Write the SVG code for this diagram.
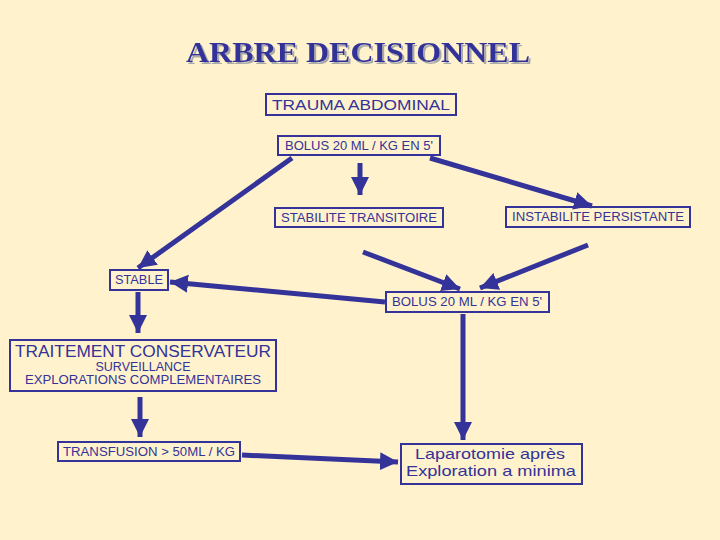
<svg xmlns="http://www.w3.org/2000/svg" width="720" height="540" viewBox="0 0 720 540">
<defs>
<marker id="ah" markerUnits="userSpaceOnUse" markerWidth="20" markerHeight="20" viewBox="0 0 20 20" refX="18" refY="10" orient="auto">
<path d="M0,1 L18,10 L0,19 Z" fill="#333399"/>
</marker>
<filter id="sh" x="-10%" y="-30%" width="120%" height="160%">
<feDropShadow dx="2" dy="2" stdDeviation="0" flood-color="#AAAAAA" flood-opacity="1"/>
</filter>
</defs>
<style>
.box{fill:none;stroke:#333399;stroke-width:2}
.t{font-family:"Liberation Sans",Arial,sans-serif;fill:#333399;text-anchor:middle}
.n{font-size:12px}
.c{stroke:#333399;stroke-width:5;fill:none;marker-end:url(#ah)}
</style>
<rect width="720" height="540" fill="#FFF2CC"/>
<g id="title">
<text x="358" y="62" font-family="'Liberation Serif',serif" font-weight="bold" font-size="30" fill="#333399" text-anchor="middle" textLength="344" lengthAdjust="spacingAndGlyphs" filter="url(#sh)">ARBRE DECISIONNEL</text>
</g>
<g id="connectors">
<line class="c" x1="292" y1="158" x2="138" y2="268"/>
<line class="c" x1="360" y1="163" x2="360" y2="195"/>
<line class="c" x1="430" y1="158" x2="592" y2="206"/>
<line class="c" x1="363" y1="252" x2="460" y2="289"/>
<line class="c" x1="588" y1="245" x2="480" y2="288"/>
<line class="c" x1="385" y1="302" x2="170" y2="282"/>
<line class="c" x1="138" y1="292" x2="138" y2="333"/>
<line class="c" x1="140" y1="397" x2="140" y2="437"/>
<line class="c" x1="463" y1="314" x2="463" y2="440"/>
<line class="c" x1="242" y1="455" x2="398" y2="462"/>
</g>
<g id="trauma">
<rect class="box" x="266" y="94" width="190" height="21"/>
<text class="t" x="361" y="110" font-size="14" textLength="178" lengthAdjust="spacingAndGlyphs">TRAUMA ABDOMINAL</text>
</g>
<g id="bolus1">
<rect class="box" x="278" y="136" width="162" height="19"/>
<text class="t n" x="359" y="150" textLength="148" lengthAdjust="spacingAndGlyphs">BOLUS 20 ML / KG EN 5'</text>
</g>
<g id="stabilite">
<rect class="box" x="275" y="208" width="168" height="19"/>
<text class="t n" x="359" y="222" textLength="156" lengthAdjust="spacingAndGlyphs">STABILITE TRANSITOIRE</text>
</g>
<g id="instabilite">
<rect class="box" x="506" y="207" width="184" height="20"/>
<text class="t n" x="598" y="221" textLength="172" lengthAdjust="spacingAndGlyphs">INSTABILITE PERSISTANTE</text>
</g>
<g id="stable">
<rect class="box" x="110" y="270" width="58" height="20"/>
<text class="t n" x="139" y="284" textLength="48" lengthAdjust="spacingAndGlyphs">STABLE</text>
</g>
<g id="bolus2">
<rect class="box" x="386" y="292" width="163" height="20"/>
<text class="t n" x="467" y="306" textLength="150" lengthAdjust="spacingAndGlyphs">BOLUS 20 ML / KG EN 5'</text>
</g>
<g id="traitement">
<rect class="box" x="10" y="340" width="266" height="51"/>
<text class="t" x="143" y="357" font-size="16" textLength="256" lengthAdjust="spacingAndGlyphs">TRAITEMENT CONSERVATEUR</text>
<text class="t n" x="143" y="371" textLength="95" lengthAdjust="spacingAndGlyphs">SURVEILLANCE</text>
<text class="t n" x="143" y="384" textLength="236" lengthAdjust="spacingAndGlyphs">EXPLORATIONS COMPLEMENTAIRES</text>
</g>
<g id="transfusion">
<rect class="box" x="58" y="442" width="182" height="19"/>
<text class="t n" x="149" y="456" textLength="172" lengthAdjust="spacingAndGlyphs">TRANSFUSION &gt; 50ML / KG</text>
</g>
<g id="laparotomie">
<rect class="box" x="401" y="444" width="181" height="40"/>
<text class="t" x="490" y="459" font-size="15" textLength="150" lengthAdjust="spacingAndGlyphs">Laparotomie après</text>
<text class="t" x="491" y="476" font-size="15" textLength="170" lengthAdjust="spacingAndGlyphs">Exploration a minima</text>
</g>
</svg>
